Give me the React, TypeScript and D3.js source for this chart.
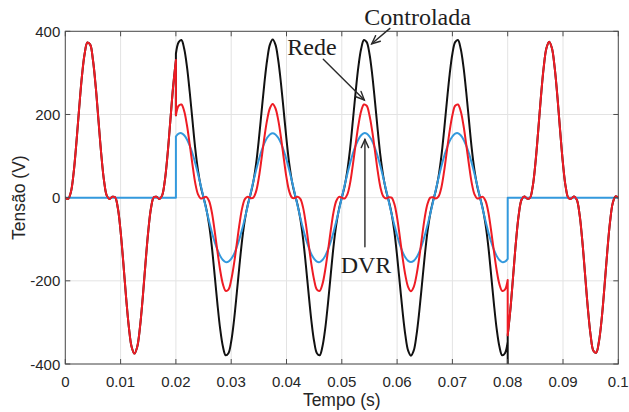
import React from 'react';
import * as d3 from 'd3';

const width = 629;
const height = 412;
const margin = { top: 31.3, right: 10.7, bottom: 48, left: 65.3 };

// sampling of the values
const passo = 0.0005; // s
const inicioAfundamento = 0.02;
const fimAfundamento = 0.08;
const fimTempo = 0.1;

const xTicks = [0, 0.01, 0.02, 0.03, 0.04, 0.05, 0.06, 0.07, 0.08, 0.09, 0.1];
const xTickLabels = ['0', '0.01', '0.02', '0.03', '0.04', '0.05', '0.06', '0.07', '0.08', '0.09', '0.1'];
const yTicks = [-400, -200, 0, 200, 400];
const yTickLabels = ['-400', '-200', '0', '200', '400'];

// Rede (grid) voltage, V, 0 -> 0.02 s
const redeAntes = [
  0, -3, 13, 59, 131, 214, 291, 346, 373, 368, 331, 267, 186, 105, 41, 5, -3, 2, 1, -25,
  -81, -158, -241, -312, -359, -375, -359, -312, -241, -158, -81, -25, 1, 2, -3, 5, 41, 105, 186, 267,
  331,
];
// Rede during the sag, 0.02 -> 0.08 s
const redeAfundamento = [
  198, 221, 224, 208, 174, 128, 79, 35, 8, -2,
  0, 2, -8, -35, -79, -128, -174, -208, -224, -221,
  -198, -160, -112, -63, -24, -3, 2, -1, 0, 15,
  48, 95, 145, 187, 215, 225, 215, 187, 145, 95,
  48, 15, 0, -1, 2, -3, -24, -63, -112, -160,
  -198, -221, -224, -208, -174, -128, -79, -35, -8, 2,
  0, -2, 8, 35, 79, 128, 174, 208, 224, 221,
  198, 160, 112, 63, 24, 3, -2, 1, 0, -15,
  -48, -95, -145, -187, -215, -225, -215, -187, -145, -95,
  -48, -15, 0, 1, -2, 3, 24, 63, 112, 160,
  198, 221, 224, 208, 174, 128, 79, 35, 8, -2,
  0, 2, -8, -35, -79, -128, -174, -208, -224, -221,
  -198,
];
// Rede after the sag, 0.08 -> 0.1 s
const redeDepois = [
  -331, -267, -186, -105, -41, -5, 3, -2, -1, 25, 81, 158, 241, 312, 359, 375, 359, 312, 241, 158,
  81, 25, -1, -2, 3, -5, -41, -105, -186, -267, -331, -368, -373, -346, -291, -214, -131, -59, -13, 3,
  0,
];

// DVR injected voltage during the sag (zero outside it)
const dvrFora = 0;
const dvrAfundamento = [
  147, 154, 155, 150, 140, 125, 106, 83, 57, 29,
  0, -29, -57, -83, -106, -125, -140, -150, -155, -154,
  -147, -136, -119, -99, -75, -48, -19, 10, 39, 66,
  91, 113, 131, 144, 152, 155, 152, 144, 131, 113,
  91, 66, 39, 10, -19, -48, -75, -99, -119, -136,
  -147, -154, -155, -150, -140, -125, -106, -83, -57, -29,
  0, 29, 57, 83, 106, 125, 140, 150, 155, 154,
  147, 136, 119, 99, 75, 48, 19, -10, -39, -66,
  -91, -113, -131, -144, -152, -155, -152, -144, -131, -113,
  -91, -66, -39, -10, 19, 48, 75, 99, 119, 136,
  147, 154, 155, 150, 140, 125, 106, 83, 57, 29,
  0, -29, -57, -83, -106, -125, -140, -150, -155, -154,
  -147,
];

// Controlada (load) voltage during the sag; outside it equals the grid
const controladaAfundamento = [
  346, 374, 379, 358, 315, 254, 185, 118, 65, 27,
  0, -27, -65, -118, -185, -254, -315, -358, -379, -374,
  -346, -296, -231, -162, -99, -51, -17, 8, 38, 81,
  140, 208, 275, 331, 368, 380, 368, 331, 275, 208,
  140, 81, 38, 8, -17, -51, -99, -162, -231, -296,
  -346, -374, -379, -358, -315, -254, -185, -118, -65, -27,
  0, 27, 65, 118, 185, 254, 315, 358, 379, 374,
  346, 296, 231, 162, 99, 51, 17, -8, -38, -81,
  -140, -208, -275, -331, -368, -380, -368, -331, -275, -208,
  -140, -81, -38, -8, 17, 51, 99, 162, 231, 296,
  346, 374, 379, 358, 315, 254, 185, 118, 65, 27,
  0, -27, -65, -118, -185, -254, -315, -358, -379, -374,
  -346,
];
// switching transients at sag start / end
const controladaTransitorio = [198, -440];

type P = [number, number];

const pontos = (vals: number[], t0: number): P[] => vals.map((v, i) => [t0 + i * passo, v] as P);

export default function App() {
  const x = d3.scaleLinear().domain([0, fimTempo]).range([margin.left, width - margin.right]);
  const y = d3.scaleLinear().domain([-400, 400]).range([height - margin.bottom, margin.top]);

  const curva = d3.line<P>().x(d => x(d[0])).y(d => y(d[1])).curve(d3.curveCatmullRom.alpha(0.5));
  const reta = d3.line<P>().x(d => x(d[0])).y(d => y(d[1]));

  // smooth pieces joined by straight jumps (through optional extra points)
  const caminho = (pedacos: P[][], extras: P[][]) => {
    let d = '';
    pedacos.forEach((p, i) => {
      d += curva(p);
      if (i < pedacos.length - 1) {
        d += reta([p[p.length - 1], ...extras[i], pedacos[i + 1][0]]);
      }
    });
    return d;
  };

  const rede = caminho(
    [pontos(redeAntes, 0), pontos(redeAfundamento, inicioAfundamento), pontos(redeDepois, fimAfundamento)],
    [[], []]
  );
  const dvr = caminho(
    [
      [[0, dvrFora], [inicioAfundamento, dvrFora]],
      pontos(dvrAfundamento, inicioAfundamento),
      [[fimAfundamento, dvrFora], [fimTempo, dvrFora]],
    ],
    [[], []]
  );
  const controlada = caminho(
    [pontos(redeAntes, 0), pontos(controladaAfundamento, inicioAfundamento), pontos(redeDepois, fimAfundamento)],
    [[[inicioAfundamento, controladaTransitorio[0]]], [[fimAfundamento, controladaTransitorio[1]]]]
  );

  const x0 = margin.left, x1 = width - margin.right;
  const y0 = margin.top, y1 = height - margin.bottom;
  const tick = 5;
  const sans = '"Liberation Sans", Arial, Helvetica, sans-serif';
  const serif = '"Liberation Serif", "Times New Roman", serif';
  const axisColor = '#4d4d4d';
  const arrowColor = '#2a2a2a';

  const seta = (from: P, to: P) => {
    const ax = x(from[0]), ay = y(from[1]);
    const bx = x(to[0]), by = y(to[1]);
    const ang = Math.atan2(by - ay, bx - ax);
    const len = 9, spread = 0.42;
    const h1: P = [bx - len * Math.cos(ang - spread), by - len * Math.sin(ang - spread)];
    const h2: P = [bx - len * Math.cos(ang + spread), by - len * Math.sin(ang + spread)];
    return (
      <g stroke={arrowColor} strokeWidth={1.4} fill="none" strokeLinecap="round">
        <line x1={ax} y1={ay} x2={bx} y2={by} />
        <polyline points={`${h1[0]},${h1[1]} ${bx},${by} ${h2[0]},${h2[1]}`} />
      </g>
    );
  };

  return (
    <svg width={width} height={height} style={{ position: 'absolute', left: 0, top: 0, background: '#fff' }}>
      <defs>
        <clipPath id="area">
          <rect x={x0} y={y0} width={x1 - x0} height={y1 - y0} />
        </clipPath>
      </defs>
      <rect x={0} y={0} width={width} height={height} fill="#fff" />

      {/* grid */}
      <g stroke="#e3e3e3" strokeWidth={1}>
        {xTicks.map(t => <line key={'gx' + t} x1={x(t)} x2={x(t)} y1={y0} y2={y1} />)}
        {yTicks.map(v => <line key={'gy' + v} x1={x0} x2={x1} y1={y(v)} y2={y(v)} />)}
      </g>

      {/* series */}
      <g clipPath="url(#area)" fill="none" strokeWidth={2} strokeLinejoin="round" strokeLinecap="round">
        <path d={controlada} stroke="#111111" />
        <path d={dvr} stroke="#3399dd" />
        <path d={rede} stroke="#ee1c24" />
      </g>

      {/* frame and ticks */}
      <rect x={x0} y={y0} width={x1 - x0} height={y1 - y0} fill="none" stroke={axisColor} strokeWidth={1} />
      <g stroke={axisColor} strokeWidth={1}>
        {xTicks.map(t => (
          <g key={'tx' + t}>
            <line x1={x(t)} x2={x(t)} y1={y1} y2={y1 - tick} />
            <line x1={x(t)} x2={x(t)} y1={y0} y2={y0 + tick} />
          </g>
        ))}
        {yTicks.map(v => (
          <g key={'ty' + v}>
            <line x1={x0} x2={x0 + tick} y1={y(v)} y2={y(v)} />
            <line x1={x1} x2={x1 - tick} y1={y(v)} y2={y(v)} />
          </g>
        ))}
      </g>

      {/* tick labels */}
      <g fontFamily={sans} fontSize={15} fill="#262626">
        {xTicks.map((t, i) => (
          <text key={'lx' + t} x={x(t)} y={y1 + 22.5} textAnchor="middle">{xTickLabels[i]}</text>
        ))}
        {yTicks.map((v, i) => (
          <text key={'ly' + v} x={x0 - 5} y={y(v) + 5.5} textAnchor="end">{yTickLabels[i]}</text>
        ))}
      </g>

      {/* axis titles */}
      <text x={(x0 + x1) / 2} y={406} textAnchor="middle" fontFamily={sans} fontSize={17.5} fill="#262626">Tempo (s)</text>
      <text transform={`translate(25, ${(y0 + y1) / 2}) rotate(-90)`} textAnchor="middle" fontFamily={sans} fontSize={17.5} fill="#262626">Tensão (V)</text>

      {/* annotations */}
      <g fontFamily={serif} fontSize={24} fill="#1e1e1e" textAnchor="middle">
        <text x={x(0.0637)} y={y(415)}>Controlada</text>
        <text x={x(0.0446)} y={y(343)}>Rede</text>
        <text x={x(0.05438)} y={y(-181)}>DVR</text>
      </g>
      {seta([0.0587, 407], [0.05541, 370])}
      {seta([0.04665, 333], [0.05407, 235])}
      {seta([0.05418, -118], [0.05418, 140])}
    </svg>
  );
}
